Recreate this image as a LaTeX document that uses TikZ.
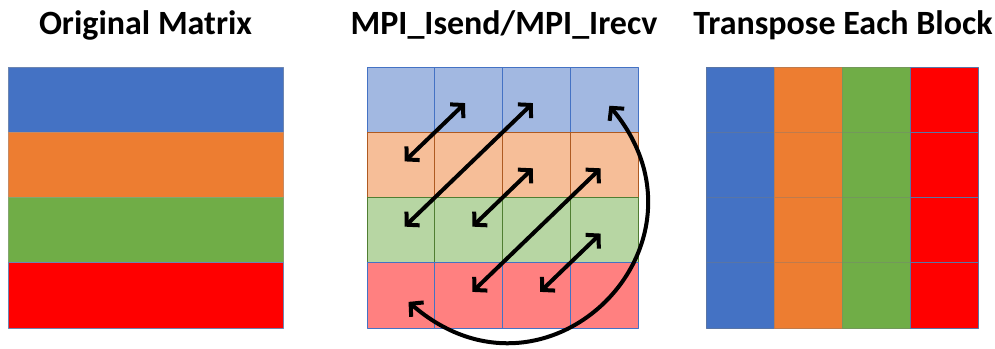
\documentclass[tikz,border=0pt]{standalone}
\usepackage{fontspec}
\setmainfont{Carlito}
\usetikzlibrary{arrows.meta}
\definecolor{mblue}{HTML}{4472C4}
\definecolor{morange}{HTML}{ED7D31}
\definecolor{mgreen}{HTML}{70AD47}
\definecolor{mred}{HTML}{FF0000}
\definecolor{eblue}{HTML}{2F528F}
\definecolor{eorange}{HTML}{AE5A21}
\definecolor{egreen}{HTML}{507E32}

\begin{document}
\begin{tikzpicture}[x=1pt,y=1pt,line cap=round,line join=round,>={Straight Barb[length=9pt,width=19pt]},
    cell/.style={draw,line width=0.8pt,inner sep=0pt,outer sep=0pt,minimum width=67.75pt,minimum height=65.25pt},
    title/.style={font=\bfseries\fontsize{34}{40}\selectfont,anchor=base,inner sep=0pt},
    swap/.style={<->,line width=4pt,shorten <=5pt,shorten >=5pt}]
        \useasboundingbox (0,0) rectangle (995,348);
        % titles
        \node[title] (lt) at (145.5,313.5) {Original Matrix};
        \node[title] (mt) at (504,313.5) {MPI\_Isend/MPI\_Irecv};
        \node[title] (rt) at (843,313.5) {Transpose Each Block};
        % original matrix, one row per block
        \foreach \c/\e/\r in {mblue/eblue/0,morange/eorange/1,mgreen/egreen/2,mred/eblue/3}
            \node[cell,minimum width=275pt,fill=\c,draw=\e!70] (o\r) at (145.5,{248.4-65.25*\r}) {};
        % exchange grid
        \foreach \c/\e/\r in {mblue/mblue/0,morange/eorange/1,mgreen/egreen/2,mred/mblue/3}
            \foreach \j in {0,...,3}
                \node[cell,fill=\c!50,draw=\e] (m\r\j) at ({401+67.75*\j},{248.4-65.25*\r}) {};
        % transposed blocks
        \foreach \c/\e/\j in {mblue/eblue/0,morange/eorange/1,mgreen/egreen/2,mred/eblue/3}
            \foreach \r in {0,...,3}
                \node[cell,minimum width=68pt,fill=\c,draw=\e!80] (t\r\j) at ({740+68*\j},{248.4-65.25*\r}) {};
        % swaps
        \draw[swap] (m10.center) -- (m01.center);
        \draw[swap] (m20.center) -- (m02.center);
        \draw[swap] (m21.center) -- (m12.center);
        \draw[swap] (m31.center) -- (m13.center);
        \draw[swap] (m32.center) -- (m23.center);
        \draw[swap,shorten <=8pt,shorten >=10pt] (m03.center) .. controls +(121,-145) and +(146,-127) .. (m30.center);
      \end{tikzpicture}
\end{document}
